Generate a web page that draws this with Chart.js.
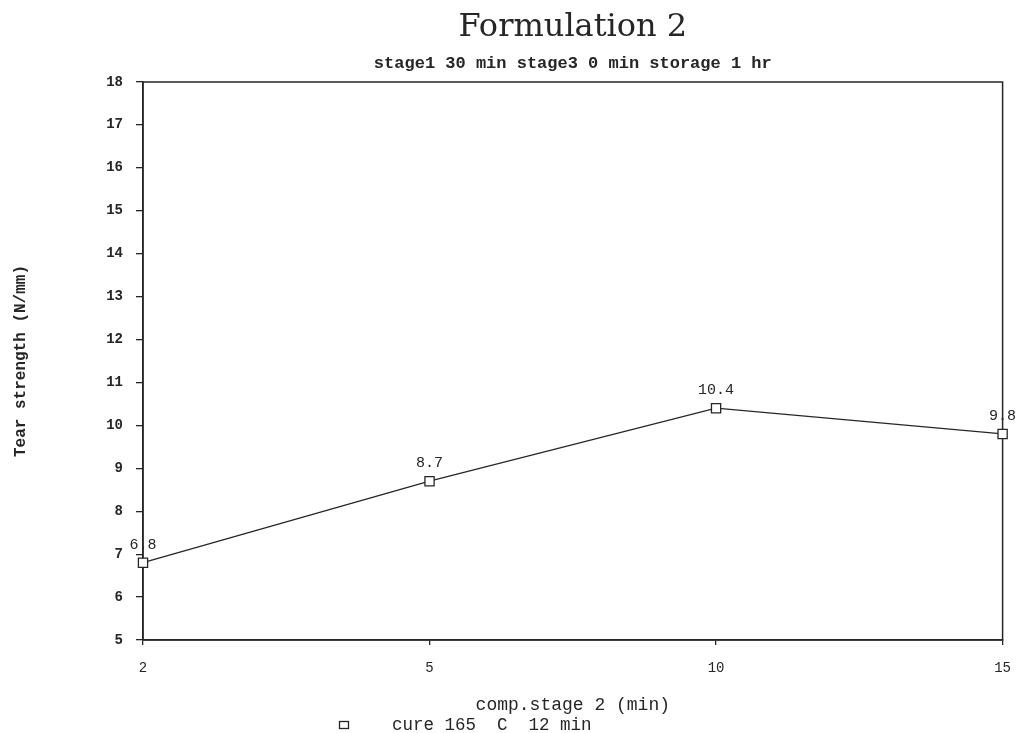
<!DOCTYPE html>
<html>
<head>
<meta charset="utf-8">
<title>Formulation 2</title>
<script src="https://cdn.jsdelivr.net/npm/chart.js@4.4.1/dist/chart.umd.min.js"></script>
<style>
  html, body { margin: 0; padding: 0; background: #ffffff; }
  #wrap { width: 1026px; height: 733px; }
</style>
</head>
<body>
<div id="wrap"><canvas id="chart" width="1026" height="733"></canvas></div>
<script>
// Compounding time in stage 2 (min) and the measured tear strength (N/mm)
const compStage2 = ['2', '5', '10', '15'];
const tearStrength = [6.8, 8.7, 10.4, 9.8];

// Axis range
const yMin = 5;
const yMax = 18;
const yStep = 1;

// Texts
const chartTitle = 'Formulation 2';
const chartSubtitle = 'stage1 30 min stage3 0 min storage 1 hr';
const xAxisTitle = 'comp.stage 2 (min)';
const yAxisTitle = 'Tear strength (N/mm)';
const seriesLabel = 'cure 165  C  12 min';

const INK = '#262626';
const MONO = '"Liberation Mono", "DejaVu Sans Mono", monospace';

// Box around the plotting area
const framePlugin = {
  id: 'frame',
  beforeDatasetsDraw(chart) {
    const { ctx, chartArea: a } = chart;
    ctx.save();
    ctx.strokeStyle = INK;
    ctx.lineWidth = 1.5;
    ctx.strokeRect(a.left, a.top, a.right - a.left, a.bottom - a.top);
    ctx.restore();
  }
};

// Value written above every point
const valueLabelPlugin = {
  id: 'valueLabels',
  afterDatasetsDraw(chart) {
    const { ctx } = chart;
    chart.data.datasets.forEach((ds, i) => {
      const meta = chart.getDatasetMeta(i);
      ctx.save();
      ctx.fillStyle = INK;
      ctx.font = '15px ' + MONO;
      ctx.textAlign = 'center';
      ctx.textBaseline = 'middle';
      meta.data.forEach((pt, j) => {
        ctx.fillText(ds.data[j].toFixed(1), pt.x, pt.y - 18);
      });
      ctx.restore();
    });
  }
};

// Series key under the axis title: hollow square followed by the series name
const seriesKeyPlugin = {
  id: 'seriesKey',
  afterDraw(chart) {
    const { ctx, chartArea: a } = chart;
    const ds = chart.data.datasets[0];
    const y = chart.height - 8;
    const bx = a.left + 201;
    ctx.save();
    ctx.strokeStyle = INK;
    ctx.lineWidth = 1.3;
    ctx.fillStyle = '#ffffff';
    ctx.fillRect(bx - 4.5, y - 3.5, 9, 7);
    ctx.strokeRect(bx - 4.5, y - 3.5, 9, 7);
    ctx.fillStyle = INK;
    ctx.font = '17.5px ' + MONO;
    ctx.textAlign = 'left';
    ctx.textBaseline = 'middle';
    ctx.fillText(ds.label, a.left + 249, y);
    ctx.restore();
  }
};

new Chart(document.getElementById('chart'), {
  type: 'line',
  data: {
    labels: compStage2,
    datasets: [{
      label: seriesLabel,
      data: tearStrength,
      borderColor: INK,
      borderWidth: 1.3,
      tension: 0,
      fill: false,
      pointStyle: 'rect',
      pointRadius: 6.5,
      pointHoverRadius: 6.5,
      pointBorderWidth: 1.3,
      pointBorderColor: INK,
      pointBackgroundColor: '#ffffff'
    }]
  },
  options: {
    responsive: false,
    animation: false,
    devicePixelRatio: 1,
    layout: { padding: { top: 0, right: 19, bottom: 0, left: 0 } },
    plugins: {
      legend: { display: false },
      tooltip: { enabled: false },
      title: {
        display: true,
        fullSize: false,
        text: chartTitle,
        color: INK,
        font: { family: '"DejaVu Serif", "Liberation Serif", serif', size: 32, weight: 'normal', lineHeight: 1 },
        padding: { top: 11.5, bottom: 0 }
      },
      subtitle: {
        display: true,
        fullSize: false,
        text: chartSubtitle,
        color: INK,
        font: { family: MONO, size: 17, weight: 'bold', lineHeight: 1 },
        padding: { top: 12, bottom: 9.5 }
      }
    },
    scales: {
      x: {
        type: 'category',
        offset: false,
        grid: {
          display: true,
          drawOnChartArea: false,
          drawTicks: true,
          tickLength: 5,
          color: INK,
          lineWidth: 1.3
        },
        border: { display: true, color: INK, width: 1.5 },
        ticks: {
          color: INK,
          font: { family: MONO, size: 14 },
          padding: 15,
          maxRotation: 0
        },
        title: {
          display: true,
          text: xAxisTitle,
          color: INK,
          font: { family: MONO, size: 18, lineHeight: 1 },
          padding: { top: 0, bottom: 19 }
        },
        afterFit(scale) { scale.height = 93; }
      },
      y: {
        min: yMin,
        max: yMax,
        grid: {
          display: true,
          drawOnChartArea: false,
          drawTicks: true,
          tickLength: 7,
          color: INK,
          lineWidth: 1.3
        },
        border: { display: true, color: INK, width: 1.5 },
        ticks: {
          stepSize: yStep,
          color: INK,
          font: { family: MONO, size: 14, weight: 'bold' },
          padding: 13
        },
        title: {
          display: true,
          text: yAxisTitle,
          color: INK,
          font: { family: MONO, size: 16, weight: 'bold', lineHeight: 1 },
          padding: { top: 13, bottom: 0 }
        },
        afterFit(scale) { scale.width = 143; }
      }
    }
  },
  plugins: [framePlugin, valueLabelPlugin, seriesKeyPlugin]
});
</script>
</body>
</html>
